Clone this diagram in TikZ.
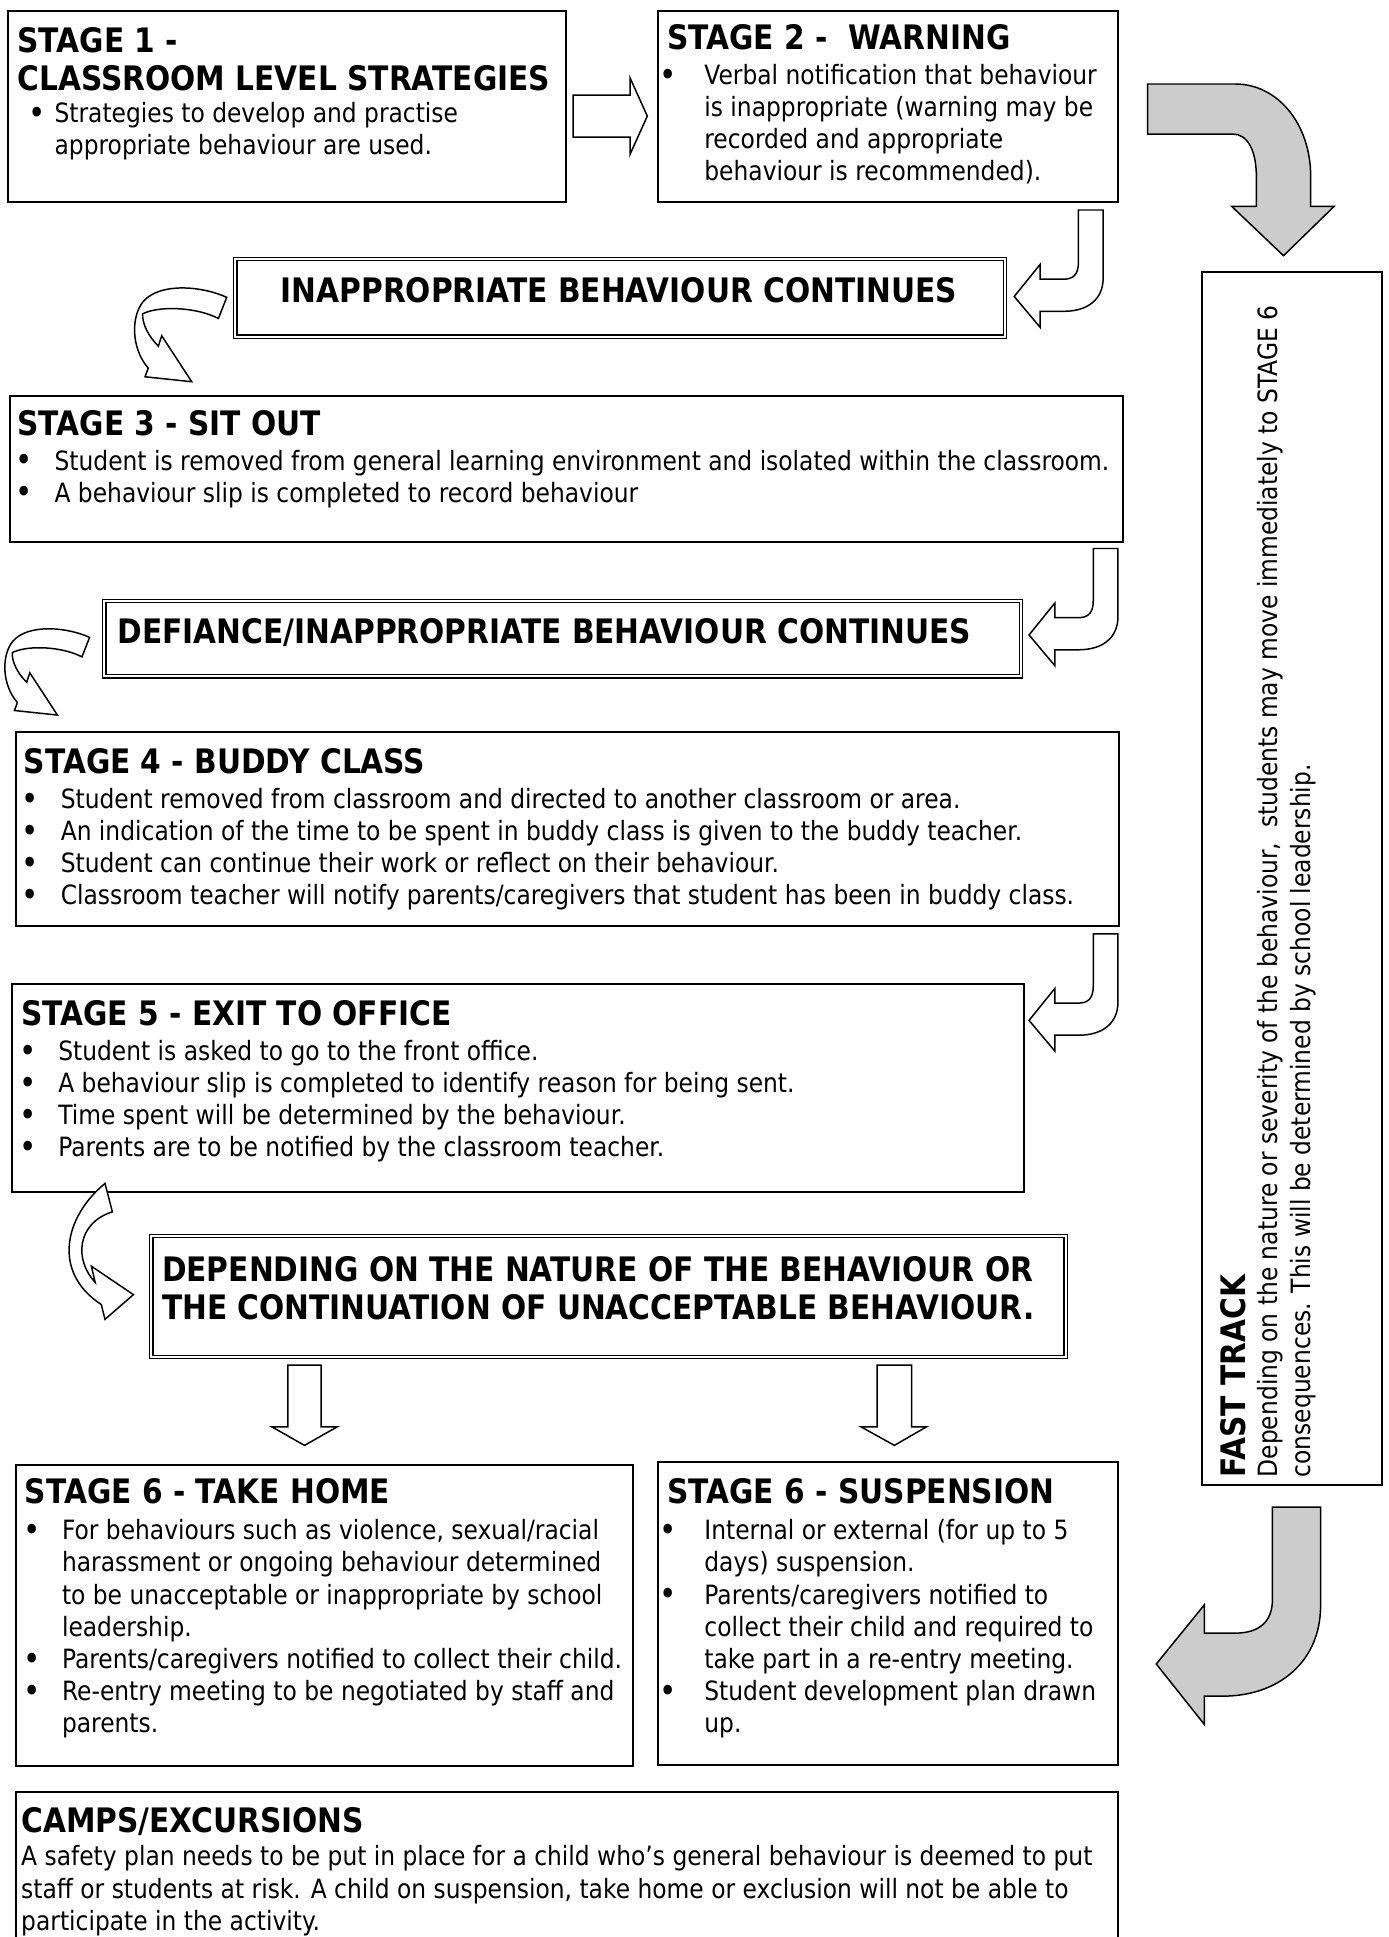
\documentclass[tikz,border=0pt]{standalone}
\usepackage{fontspec}
\setmainfont{DejaVu Sans}[FakeStretch=0.88]
\definecolor{fastgray}{RGB}{204,204,204}
\newcommand{\bodyfont}{\fontsize{21.5}{26}\selectfont}
\newcommand{\headfont}{\fontsize{27.3}{31}\selectfont\bfseries}
% bullet with its own offset, text always 30pt in
\newcommand{\bu}[1][-1.4pt]{\makebox[30pt][l]{\hspace*{#1}\raisebox{-1.5pt}{\fontsize{27}{26}\selectfont\textbullet}}}
\newcommand{\cont}{\hspace*{30pt}}
% hollow u-turn arrow, tail top-left at (#1,#2)
\newcommand{\uturn}[2]{%
  \draw[hollow, shift={(#1,#2)}] (0,0) -- (20,0) -- (20,55) .. controls (20,72) and (8,82) .. (-12,82) -- (-31,82) -- (-31,95) -- (-52,70) -- (-31,44) -- (-31,56) -- (-12,56) .. controls (-4,56) and (0,52) .. (0,42) -- cycle;}
% hollow curled arrow, tail corner at (#1,#2), scaled by #3
\newcommand{\curl}[3]{%
  \draw[hollow, shift={(#1,#2)}, scale=#3] (0,0) .. controls (-18.5,-8.7) and (-53.5,-12.7) .. (-67.5,3.3) .. controls (-77.5,15.3) and (-77.5,41.3) .. (-63.5,57.3) -- (-66.1,64.3) -- (-28.3,68.3) -- (-52.6,31.1) -- (-55.3,39.5) .. controls (-63.5,31.3) and (-68.5,21.3) .. (-68,13.3) .. controls (-53.5,6.3) and (-23.5,8.3) .. (-6.7,17.1) -- cycle;}
\tikzset{
  stagebox/.style={draw, line width=1.6pt, anchor=north west, inner sep=0pt},
  notebox/.style={draw, double, line width=1.1pt, double distance=1.6pt, anchor=north west, inner sep=0pt},
  stagetext/.style={anchor=north west, align=left, inner sep=0pt, font=\bodyfont},
  hollow/.style={draw, fill=white, line width=1.2pt, line join=miter},
  fastarrow/.style={draw, fill=fastgray, line width=1.2pt},
}
\begin{document}
\begin{tikzpicture}[x=1pt,y=-1pt]
  \clip (0,0) rectangle (1124,1568);

  % boxes
  \node[stagebox, minimum width=451pt, minimum height=155pt] (s1) at (6,8) {};
  \node[stagebox, minimum width=372pt, minimum height=155pt] (s2) at (532,8) {};
  \node[notebox, minimum width=623pt, minimum height=63pt] (c1) at (190,209) {};
  \node[stagebox, minimum width=901pt, minimum height=118pt] (s3) at (7,320) {};
  \node[notebox, minimum width=742pt, minimum height=61pt] (c2) at (84,486) {};
  \node[stagebox, minimum width=893pt, minimum height=157pt] (s4) at (12,592) {};
  \node[stagebox, minimum width=819pt, minimum height=168pt] (s5) at (9,796) {};
  \node[notebox, minimum width=740pt, minimum height=98pt] (c3) at (122,1000) {};
  \node[stagebox, minimum width=500pt, minimum height=244pt] (s6a) at (12,1185) {};
  \node[stagebox, minimum width=372pt, minimum height=245pt] (s6b) at (532,1183) {};
  \node[stagebox, minimum width=892pt, minimum height=200pt] (camps) at (12,1450) {};
  \node[stagebox, minimum width=146pt, minimum height=982pt] (fast) at (972,219) {};

  % texts (top of caps = baseline - 20)
  \node[stagetext] (s1t) at (14,22) {{\headfont STAGE 1 -}\\[5pt]
    {\headfont CLASSROOM LEVEL STRATEGIES}\\[0pt]
    \bu[9pt]Strategies to develop and practise\\
    \cont appropriate behaviour are used.};
  \node[stagetext] (s2t) at (540,20) {{\headfont STAGE 2 -\ \ WARNING}\\[2pt]
    \bu[-6pt]Verbal notification that behaviour\\
    \cont is inappropriate (warning may be\\
    \cont recorded and appropriate\\
    \cont behaviour is recommended).};
  \node[font=\headfont, anchor=base] (c1t) at (501,245) {INAPPROPRIATE BEHAVIOUR CONTINUES};
  \node[stagetext] (s3t) at (14,332) {{\headfont STAGE 3 - SIT OUT}\\[2pt]
    \bu Student is removed from general learning environment and isolated within the classroom.\\
    \bu A behaviour slip is completed to record behaviour};
  \node[font=\headfont, anchor=base west, inner sep=0pt] (c2t) at (95,521) {DEFIANCE/INAPPROPRIATE BEHAVIOUR CONTINUES};
  \node[stagetext] (s4t) at (19,606) {{\headfont STAGE 4 - BUDDY CLASS}\\[2pt]
    \bu Student removed from classroom and directed to another classroom or area.\\
    \bu An indication of the time to be spent in buddy class is given to the buddy teacher.\\
    \bu Student can continue their work or reflect on their behaviour.\\
    \bu Classroom teacher will notify parents/caregivers that student has been in buddy class.};
  \node[stagetext] (s5t) at (17,810) {{\headfont STAGE 5 - EXIT TO OFFICE}\\[2pt]
    \bu Student is asked to go to the front office.\\
    \bu A behaviour slip is completed to identify reason for being sent.\\
    \bu Time spent will be determined by the behaviour.\\
    \bu Parents are to be notified by the classroom teacher.};
  \node[stagetext, font=\headfont] (c3t) at (131,1017) {DEPENDING ON THE NATURE OF THE BEHAVIOUR OR\\
    THE CONTINUATION OF UNACCEPTABLE BEHAVIOUR.};
  \node[stagetext] (s6at) at (20,1197) {{\headfont STAGE 6 - TAKE HOME}\\[3pt]
    \bu For behaviours such as violence, sexual/racial\\
    \cont harassment or ongoing behaviour determined\\
    \cont to be unacceptable or inappropriate by school\\
    \cont leadership.\\
    \bu Parents/caregivers notified to collect their child.\\
    \bu Re-entry meeting to be negotiated by staff and\\
    \cont parents.};
  \node[stagetext] (s6bt) at (540,1197) {{\headfont STAGE 6 - SUSPENSION}\\[3pt]
    \bu[-6pt]Internal or external (for up to 5\\
    \cont days) suspension.\\
    \bu[-6pt]Parents/caregivers notified to\\
    \cont collect their child and required to\\
    \cont take part in a re-entry meeting.\\
    \bu[-6pt]Student development plan drawn\\
    \cont up.};
  \node[stagetext] (campst) at (17,1463) {{\headfont CAMPS/EXCURSIONS}\\[1pt]
    A safety plan needs to be put in place for a child who’s general behaviour is deemed to put\\
    staff or students at risk. A child on suspension, take home or exclusion will not be able to\\
    participate in the activity.};
  \node[stagetext, rotate=90] (fastt) at (988,1196) {{\headfont FAST TRACK}\\
    Depending on the nature or severity of the behaviour,~ students may move immediately to STAGE 6\\
    consequences. This will be determined by school leadership.};

  % straight arrows
  \draw[hollow] (464,77) -- (510,77) -- (510,63) -- (524,94) -- (510,125) -- (510,111) -- (464,111) -- cycle;
  \draw[hollow] (233,1105) -- (260,1105) -- (260,1155) -- (273,1155) -- (246.5,1170) -- (220,1155) -- (233,1155) -- cycle;
  \draw[hollow] (710,1105) -- (738,1105) -- (738,1155) -- (750,1155) -- (724,1170) -- (697,1155) -- (710,1155) -- cycle;

  % u-turns on the right
  \uturn{873}{170}
  \uturn{885}{444}
  \uturn{885}{756}

  % curled arrows on the left
  \curl{183.5}{240.7}{1}
  \curl{72.5}{516}{0.92}
  \draw[hollow] (85,958) .. controls (52,985) and (42,1030) .. (82,1056) -- (85,1068) -- (108,1048) -- (74,1025) -- (77,1038) .. controls (60,1020) and (62,990) .. (91,981) -- cycle;

  % fast track arrows
  \draw[fastarrow] (929,68) -- (1000,68) .. controls (1034,68) and (1061,100) .. (1061,143) -- (1061,167) -- (1080,167) -- (1039,207) -- (997,167) -- (1017,167) -- (1017,143) .. controls (1017,122) and (1010,108.5) .. (998,108.5) -- (929,108.5) -- cycle;
  \draw[fastarrow] (1030,1220) -- (1069,1220) -- (1069,1300) .. controls (1069,1345) and (1035,1373) .. (990,1373) -- (975,1373) -- (975,1396) -- (936,1347) -- (975,1299) -- (975,1322) -- (1000,1322) .. controls (1020,1322) and (1030,1312) .. (1030,1295) -- cycle;
\end{tikzpicture}
\end{document}
